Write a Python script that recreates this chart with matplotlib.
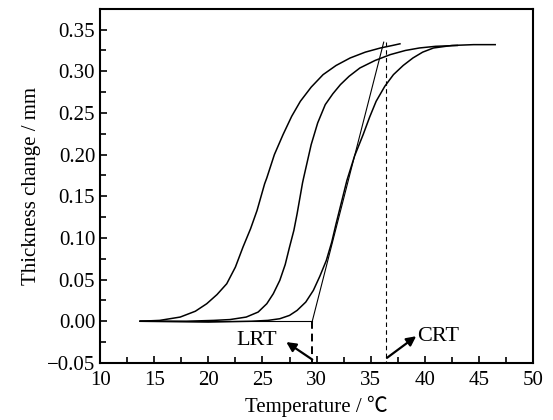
import matplotlib.pyplot as plt
from matplotlib.ticker import MultipleLocator

# данные
t1 = [13.7, 15.5, 17.4, 18.8, 19.85, 20.8, 21.7, 22.5, 23.2, 23.9, 24.5, 25.2, 25.4, 26.1, 26.9,
      27.7, 28.5, 29.5, 30.6, 31.8, 33.1, 34.5, 35.9, 37.0, 37.7]
h1 = [0.0, 0.001, 0.005, 0.012, 0.021, 0.032, 0.045, 0.065, 0.089, 0.111, 0.133, 0.165, 0.172, 0.2, 0.224,
      0.246, 0.264, 0.281, 0.296, 0.307, 0.316, 0.323, 0.328, 0.331, 0.333]

t2 = [13.7, 18.0, 20.5, 22.0, 23.5, 24.6, 25.4, 26.0, 26.6, 27.1, 27.5, 27.9, 28.2, 28.7, 28.8,
      29.5, 30.1, 30.8, 31.5, 32.2, 33.0, 34.0, 35.4, 36.8, 38.2, 39.5, 41.0, 43.0]
h2 = [0.0, 0.0, 0.001, 0.002, 0.005, 0.011, 0.021, 0.033, 0.049, 0.068, 0.089, 0.109, 0.129, 0.166, 0.172,
      0.212, 0.238, 0.26, 0.273, 0.284, 0.294, 0.304, 0.313, 0.320, 0.325, 0.328, 0.330, 0.331]

t3 = [13.7, 20.0, 24.0, 25.5, 26.6, 27.5, 28.2, 29.0, 29.7, 30.3, 30.9, 31.4, 31.8, 32.3, 32.8,
      33.5, 34.3, 34.9, 35.5, 36.3, 37.1, 38.0, 38.9, 39.8, 40.8, 42.5, 44.5, 46.5]
h3 = [0.0, -0.001, 0.0, 0.001, 0.003, 0.007, 0.013, 0.023, 0.037, 0.054, 0.073, 0.095, 0.117, 0.143, 0.169,
      0.198, 0.224, 0.245, 0.264, 0.282, 0.296, 0.307, 0.316, 0.323, 0.328, 0.331, 0.332, 0.332]

# касательные и отметки LRT / CRT
base_t = [13.7, 29.6]
tang_t = [29.6, 36.2]
tang_h = [0.0, 0.335]
LRT = 29.6
CRT = 36.4

plt.rcParams['font.family'] = ['Liberation Serif', 'Noto Sans CJK SC', 'DejaVu Serif']

fig = plt.figure(figsize=(5.53, 4.2), dpi=100)
ax = fig.add_axes([0.181, 0.136, 0.783, 0.843])

lw = 1.1
ax.plot(t1, h1, color='black', lw=lw)
ax.plot(t2, h2, color='black', lw=lw)
ax.plot(t3, h3, color='black', lw=lw)
ax.plot(base_t, [0, 0], color='black', lw=0.8)
ax.plot(tang_t, tang_h, color='black', lw=0.8)

ax.plot([LRT, LRT], [0, -0.05], color='black', lw=1.4, ls=(0, (4, 2.5)))
ax.plot([CRT, CRT], [0.335, -0.05], color='black', lw=0.8, ls=(0, (4, 3)))

arr = dict(arrowstyle='-|>', color='black', lw=1.6, mutation_scale=14, shrinkA=0, shrinkB=0)
ax.annotate('', xy=(27.2, -0.025), xytext=(LRT, -0.046), arrowprops=arr)
ax.annotate('', xy=(39.2, -0.018), xytext=(CRT + 0.1, -0.044), arrowprops=arr)
ax.text(24.5, -0.023, 'LRT', fontsize=16, ha='center', va='center')
ax.text(39.3, -0.018, 'CRT', fontsize=16, ha='left', va='center')

ax.set_xlim(10, 50)
ax.set_ylim(-0.05, 0.375)
ax.xaxis.set_major_locator(MultipleLocator(5))
ax.xaxis.set_minor_locator(MultipleLocator(2.5))
ax.yaxis.set_minor_locator(MultipleLocator(0.025))
ax.set_yticks([-0.05, 0, 0.05, 0.10, 0.15, 0.20, 0.25, 0.30, 0.35])
ax.set_yticklabels(['\u22120.05', '0.00', '0.05', '0.10', '0.15', '0.20', '0.25', '0.30', '0.35'])
ax.tick_params(which='both', direction='in', top=False, right=False, width=1.2, labelsize=15)
ax.tick_params(which='major', length=5)
ax.tick_params(which='minor', length=4)
ax.tick_params(axis='x', pad=6)
for s in ax.spines.values():
    s.set_linewidth(1.5)

ax.set_xlabel('Temperature / \u2103', fontsize=15, labelpad=4)
ax.set_ylabel('Thickness change / mm', fontsize=15)

fig.savefig('out.png', dpi=100)
